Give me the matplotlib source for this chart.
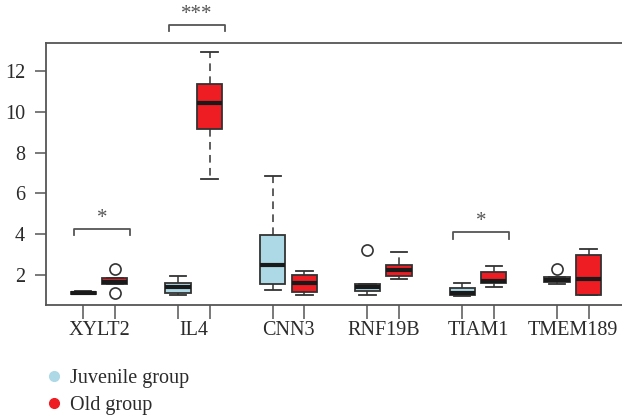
import matplotlib
matplotlib.use("Agg")
import matplotlib.pyplot as plt
from matplotlib.lines import Line2D

plt.rcParams['font.family'] = ['Liberation Serif', 'DejaVu Serif']

genes = ["XYLT2", "IL4", "CNN3", "RNF19B", "TIAM1", "TMEM189"]
groups = ["Juvenile group", "Old group"]
colors = ["#ADD8E6", "#EE1D23"]

# juvenile stats per gene
juv_whislo = [1.05, 1.02, 1.28, 1.00, 0.97, 1.56]
juv_q1     = [1.07, 1.10, 1.54, 1.20, 1.00, 1.64]
juv_med    = [1.12, 1.43, 2.50, 1.40, 1.10, 1.74]
juv_q3     = [1.17, 1.62, 3.96, 1.54, 1.35, 1.89]
juv_whishi = [1.20, 1.94, 6.87, 1.54, 1.61, 1.89]
juv_fliers = [[], [], [], [3.24], [], [2.28]]

# old stats per gene
old_whislo = [1.57, 6.70, 1.02, 1.82, 1.43, 1.00]
old_q1     = [1.57, 9.14, 1.15, 1.95, 1.62, 1.04]
old_med    = [1.67, 10.45, 1.62, 2.23, 1.69, 1.79]
old_q3     = [1.87, 11.35, 1.98, 2.47, 2.16, 2.97]
old_whishi = [1.87, 12.92, 2.21, 3.14, 2.46, 3.27]
old_fliers = [[2.28, 1.10], [], [], [], [], []]

# significance annotations: gene index, label, bracket level
sig_genes = [0, 1, 4]
sig_labels = ["*", "***", "*"]
sig_levels = [4.27, 14.27, 4.10]

fig = plt.figure(figsize=(6.22, 4.15), dpi=100)
ax = fig.add_axes([46/622, 1-305/415, 1-46/622, (305-43)/415])

edge = "#333333"
def make_stats(wl, q1, md, q3, wh, fl):
    return [dict(whislo=a, q1=b, med=c, q3=d, whishi=e, fliers=f)
            for a, b, c, d, e, f in zip(wl, q1, md, q3, wh, fl)]

juv_stats = make_stats(juv_whislo, juv_q1, juv_med, juv_q3, juv_whishi, juv_fliers)
old_stats = make_stats(old_whislo, old_q1, old_med, old_q3, old_whishi, old_fliers)

juv_pos = [1 + 3 * i for i in range(len(genes))]
old_pos = [2 + 3 * i for i in range(len(genes))]

for stats, pos, col in [(juv_stats, juv_pos, colors[0]), (old_stats, old_pos, colors[1])]:
    ax.bxp(stats, positions=pos, widths=0.8, patch_artist=True,
           boxprops=dict(facecolor=col, edgecolor=edge, linewidth=1.3),
           medianprops=dict(color="#1a1a1a", linewidth=3.0),
           whiskerprops=dict(color=edge, linewidth=1.1, linestyle=(0, (5, 3.5))),
           capprops=dict(color=edge, linewidth=1.3),
           capwidths=0.52,
           flierprops=dict(marker='o', markerfacecolor='none', markeredgecolor=edge,
                           markersize=8, markeredgewidth=1.2),
           manage_ticks=False, zorder=3)

ax.set_xlim(-0.18, 18.06)
ax.set_ylim(0.53, 13.37)
ax.set_yticks([2, 4, 6, 8, 10, 12])
ax.set_xticks(juv_pos + old_pos)
ax.set_xticklabels([])
ax.tick_params(axis='y', length=8, width=1.1, color="#555555", labelsize=14.5,
               labelcolor="#2b2b2b", pad=7)
ax.tick_params(axis='x', length=10, width=1.1, color="#555555")
for s in ["left", "bottom", "top"]:
    ax.spines[s].set_color("#555555")
    ax.spines[s].set_linewidth(1.3)
ax.spines["right"].set_visible(False)

for i, g in enumerate(genes):
    ax.text(juv_pos[i] + 0.5, -0.72, g, ha='center', va='center', fontsize=14.5,
            color="#2b2b2b", clip_on=False)

for gi, lab, lev in zip(sig_genes, sig_labels, sig_levels):
    x0 = juv_pos[gi] - 0.3
    x1 = old_pos[gi] + 0.48
    ax.plot([x0, x0, x1, x1], [lev - 0.32, lev, lev, lev - 0.32], color="#555555",
            linewidth=1.3, clip_on=False)
    ax.text((x0 + x1) / 2, lev + 0.05, lab, ha='center', va='bottom', fontsize=15,
            color="#555555", clip_on=False)

handles = [Line2D([0], [0], marker='o', linestyle='none', markersize=7,
                  markerfacecolor=c, markeredgecolor=c) for c in colors]
fig.legend(handles, groups, loc='upper left', bbox_to_anchor=(36/622, 1-361/415),
           frameon=False, fontsize=14.5, handletextpad=0.3, labelspacing=0.4,
           handlelength=1.0, borderaxespad=0, labelcolor="#2b2b2b")

fig.savefig("out.png", dpi=100)
